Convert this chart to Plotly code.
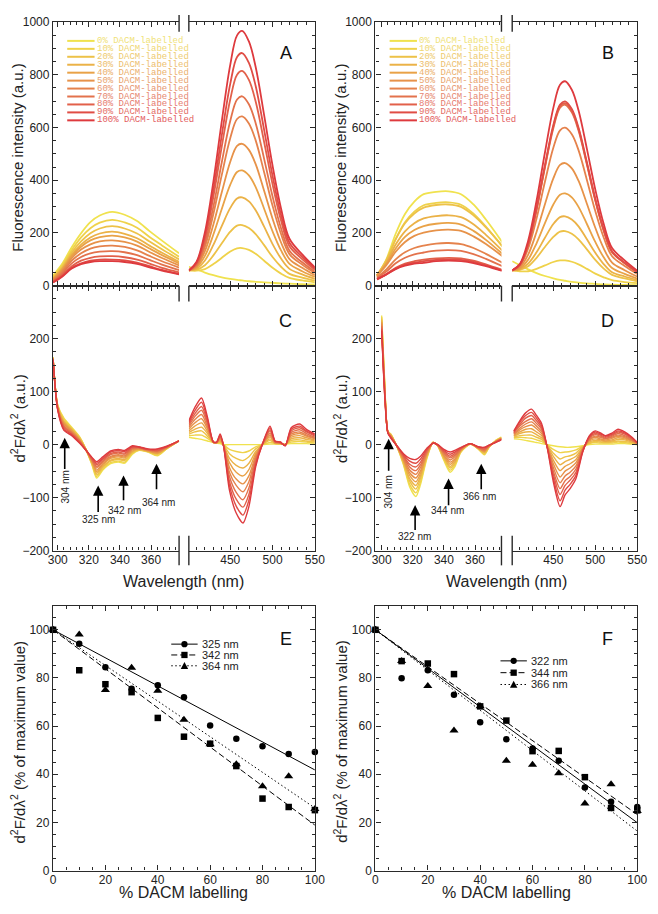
import plotly.graph_objects as go

# page offset of the plot inside the browser page (default body margin)
OFF = 8
W, H = 658, 914
FW, FH = W - OFF, H - OFF

# ---------------- data ----------------
labelling = [0, 10, 20, 30, 40, 50, 60, 70, 80, 90, 100]
legend_labels = ["0% DACM-labelled", "10% DACM-labelled", "20% DACM-labelled",
                 "30% DACM-labelled", "40% DACM-labelled", "50% DACM-labelled",
                 "60% DACM-labelled", "70% DACM-labelled", "80% DACM-labelled",
                 "90% DACM-labelled", "100% DACM-labelled"]
colors = ['#F0E24E', '#EFD24A', '#EDC248', '#EBB247', '#E9A247', '#E79249',
          '#E5824C', '#E3724C', '#E2604A', '#E04D45', '#DE3A3E']
legend_text_colors = ['#F0E278', '#EFD874', '#EECB70', '#EDBE6D', '#EBB06C', '#E9A36D',
                      '#E79670', '#E68870', '#E67A6E', '#E46B64', '#E35C5E']

# Fluorescence spectra (panel A / B)
wl_left = [297, 303, 309, 315, 321, 327, 335, 343, 351, 359, 367, 378]
wl_right = [401, 410, 420, 430, 440, 450, 458, 464, 472, 480, 490, 500, 510, 520, 535, 550]

A_left = [
    [39, 84, 146, 199, 241, 266, 280, 269, 245, 207, 171, 123],
    [35, 78, 135, 183, 218, 239, 250, 240, 220, 185, 153, 110],
    [31, 71, 126, 168, 199, 217, 226, 217, 198, 168, 138, 100],
    [28, 66, 118, 156, 183, 198, 205, 197, 180, 152, 125, 91],
    [26, 63, 112, 148, 172, 184, 190, 183, 167, 141, 116, 85],
    [23, 58, 105, 137, 157, 168, 172, 166, 152, 128, 105, 77],
    [20, 53, 95, 123, 141, 149, 152, 147, 134, 113, 93, 69],
    [17, 47, 85, 109, 123, 129, 131, 127, 116, 98, 80, 59],
    [15, 41, 74, 95, 106, 111, 112, 108, 99, 84, 68, 51],
    [13, 37, 68, 85, 95, 99, 99, 96, 88, 74, 60, 45],
    [12, 35, 65, 82, 90, 93, 93, 90, 83, 70, 57, 43],
]
A_right = [
    [72, 62, 50, 40, 32, 26, 22, 20, 17, 15, 13, 11, 9, 8, 6, 5],
    [58, 57, 63, 82, 106, 130, 142, 143, 136, 121, 95, 68, 46, 30, 20, 13],
    [58, 61, 78, 115, 161, 205, 228, 230, 219, 196, 154, 109, 72, 45, 31, 19],
    [58, 65, 96, 155, 227, 295, 331, 335, 320, 286, 224, 158, 103, 64, 43, 26],
    [58, 69, 113, 194, 292, 383, 431, 437, 418, 374, 292, 206, 134, 83, 55, 33],
    [58, 73, 131, 232, 355, 470, 530, 538, 515, 461, 360, 254, 164, 101, 68, 40],
    [58, 77, 148, 272, 421, 560, 632, 642, 615, 551, 430, 303, 196, 120, 80, 48],
    [58, 80, 161, 300, 469, 625, 706, 718, 688, 616, 481, 338, 218, 133, 89, 53],
    [58, 84, 177, 337, 529, 707, 800, 814, 780, 698, 545, 384, 247, 150, 101, 60],
    [58, 87, 189, 363, 572, 766, 867, 882, 845, 757, 591, 416, 268, 163, 109, 65],
    [58, 90, 203, 395, 625, 838, 949, 966, 926, 829, 647, 455, 293, 178, 119, 70],
]
B_left = [
    [36, 100, 197, 272, 319, 347, 356, 358, 347, 308, 251, 161],
    [37, 94, 177, 241, 281, 305, 314, 316, 307, 273, 224, 146],
    [41, 97, 176, 237, 274, 296, 306, 308, 299, 267, 221, 147],
    [40, 88, 156, 206, 237, 255, 264, 267, 260, 233, 193, 131],
    [39, 83, 141, 185, 211, 226, 235, 238, 232, 208, 174, 119],
    [38, 78, 129, 166, 189, 201, 210, 213, 208, 187, 158, 110],
    [32, 62, 100, 127, 143, 152, 160, 162, 158, 143, 121, 86],
    [29, 54, 85, 106, 119, 126, 133, 135, 132, 120, 102, 73],
    [24, 44, 68, 84, 93, 99, 104, 106, 104, 95, 81, 59],
    [24, 43, 65, 80, 88, 93, 98, 100, 98, 90, 77, 57],
    [25, 43, 63, 76, 84, 87, 93, 95, 93, 86, 74, 55],
]
B_right = [
    [93, 78, 62, 48, 37, 28, 22, 19, 15, 12, 9, 7, 5, 4, 3, 2],
    [58, 55, 55, 64, 77, 90, 96, 96, 91, 81, 64, 46, 32, 21, 14, 10],
    [58, 60, 74, 106, 147, 185, 205, 207, 197, 176, 138, 98, 65, 41, 28, 17],
    [58, 62, 84, 127, 182, 234, 260, 263, 251, 225, 176, 125, 82, 51, 35, 21],
    [58, 65, 99, 161, 237, 308, 345, 350, 335, 299, 234, 166, 108, 67, 45, 27],
    [58, 70, 118, 204, 309, 407, 458, 465, 445, 398, 311, 220, 142, 88, 59, 35],
    [58, 75, 141, 255, 394, 523, 589, 599, 574, 514, 401, 283, 183, 112, 75, 45],
    [58, 79, 156, 288, 448, 597, 675, 686, 657, 588, 459, 323, 209, 127, 85, 51],
    [58, 79, 157, 291, 452, 603, 681, 692, 663, 594, 463, 326, 211, 129, 86, 51],
    [58, 79, 158, 293, 457, 609, 687, 699, 670, 600, 468, 330, 213, 130, 87, 52],
    [58, 82, 171, 322, 505, 674, 762, 775, 743, 665, 519, 365, 235, 143, 96, 57],
]

# Second-derivative spectra (panel C / D)
wl_C_left = [297, 300, 304, 309, 314, 318, 322, 325, 329, 334, 339, 343, 348, 352, 358, 364, 370, 378]
C_left = [
    [165, 75, 50, 33, 15, -8, -38, -63, -48, -36, -33, -35, -18, -11, -14, -21, -8, 7],
    [165, 74, 48, 31, 14, -8, -37, -60, -46, -34, -31, -33, -16, -10, -13, -20, -8, 7],
    [164, 73, 45, 30, 13, -8, -35, -57, -43, -31, -28, -30, -15, -10, -13, -18, -7, 7],
    [164, 72, 43, 28, 11, -9, -34, -54, -41, -29, -26, -28, -13, -9, -12, -17, -7, 7],
    [163, 71, 41, 27, 10, -9, -32, -51, -38, -26, -23, -25, -12, -8, -12, -16, -6, 7],
    [163, 70, 39, 25, 9, -9, -31, -48, -36, -24, -21, -23, -10, -8, -11, -15, -6, 7],
    [162, 69, 36, 23, 8, -9, -30, -44, -33, -22, -19, -21, -8, -7, -10, -13, -5, 7],
    [162, 68, 34, 22, 7, -9, -28, -41, -31, -19, -16, -18, -7, -6, -10, -12, -5, 7],
    [161, 67, 32, 20, 5, -10, -27, -38, -28, -17, -14, -16, -5, -5, -9, -11, -4, 7],
    [161, 66, 29, 19, 4, -10, -25, -35, -26, -14, -11, -13, -4, -5, -9, -9, -4, 7],
    [160, 65, 27, 17, 3, -10, -24, -32, -23, -12, -9, -11, -2, -4, -8, -8, -3, 7],
]
wl_C_right = [401, 408, 416, 423, 430, 434, 438, 442, 449, 457, 465, 472, 480, 488, 497, 503, 509, 515, 522, 532, 540, 550]
C_right = [
    [14, 12, 10, 7, 4, 3, 2, 0, 0, 0, 0, 0, 0, 0, 1, 1, 1, 1, 2, 2, 2, 1],
    [17, 18, 18, 12, 4, 3, 4, 0, -9, -13, -15, -12, -4, 0, 4, 2, 1, 1, 5, 6, 5, 3],
    [20, 24, 26, 16, 4, 3, 6, 0, -17, -26, -30, -23, -8, 0, 8, 2, 2, 0, 8, 9, 7, 5],
    [23, 29, 33, 21, 4, 4, 7, -1, -26, -39, -44, -35, -13, 0, 11, 3, 2, 0, 11, 13, 10, 7],
    [26, 35, 41, 25, 4, 4, 9, -1, -34, -52, -59, -47, -17, 0, 15, 3, 3, 0, 14, 17, 13, 9],
    [30, 41, 49, 30, 5, 4, 11, -1, -43, -65, -74, -59, -21, 1, 18, 4, 3, 0, 17, 21, 16, 11],
    [33, 47, 57, 34, 5, 4, 13, -1, -52, -77, -89, -70, -25, 1, 21, 5, 3, -1, 20, 24, 18, 12],
    [36, 53, 65, 39, 5, 4, 15, -1, -60, -90, -104, -82, -29, 1, 25, 5, 4, -1, 23, 28, 21, 14],
    [39, 58, 72, 43, 5, 5, 16, -2, -69, -103, -118, -94, -34, 1, 28, 6, 4, -1, 26, 32, 24, 16],
    [42, 64, 80, 48, 5, 5, 18, -2, -77, -116, -133, -105, -38, 1, 32, 6, 5, -2, 29, 35, 26, 18],
    [45, 70, 88, 52, 5, 5, 20, -2, -86, -129, -148, -117, -42, 1, 35, 7, 5, -2, 32, 39, 29, 20],
]
wl_D_left = [300, 302, 304, 306, 310, 314, 318, 322, 325, 329, 333, 336, 340, 344, 347, 351, 357, 362, 366, 369, 373, 377]
D_left = [
    [244, 115, 25, 20, -5, -38, -80, -98, -75, -27, 4, -2, -30, -52, -42, -14, 1, -8, -19, -5, 7, 14],
    [241, 113, 25, 19, -5, -36, -75, -91, -70, -25, 4, -2, -28, -48, -39, -13, 1, -8, -18, -5, 7, 14],
    [238, 110, 24, 18, -5, -34, -69, -84, -64, -23, 4, -2, -26, -44, -36, -12, 1, -7, -16, -4, 6, 13],
    [235, 108, 24, 18, -4, -32, -64, -77, -59, -21, 4, -1, -24, -41, -33, -11, 1, -7, -15, -4, 6, 13],
    [232, 105, 24, 17, -4, -30, -58, -70, -54, -19, 4, -1, -22, -37, -30, -10, 1, -6, -13, -3, 6, 12],
    [230, 103, 24, 16, -4, -28, -53, -63, -49, -17, 4, -1, -20, -33, -27, -10, 2, -6, -12, -3, 6, 12],
    [227, 100, 23, 15, -4, -25, -48, -56, -43, -15, 3, -1, -17, -29, -23, -9, 2, -6, -11, -3, 5, 11],
    [224, 98, 23, 14, -4, -23, -42, -49, -38, -13, 3, -1, -15, -25, -20, -8, 2, -5, -9, -2, 5, 11],
    [221, 95, 23, 14, -3, -21, -37, -42, -33, -11, 3, 0, -13, -22, -17, -7, 2, -5, -8, -2, 5, 10],
    [218, 93, 22, 13, -3, -19, -31, -35, -27, -9, 3, 0, -11, -18, -14, -6, 2, -4, -6, -1, 4, 10],
    [215, 90, 22, 12, -3, -17, -26, -28, -22, -7, 3, 0, -9, -14, -11, -5, 2, -4, -5, -1, 4, 9],
]
wl_D_right = [403, 410, 417, 424, 430, 436, 443, 450, 458, 464, 470, 477, 485, 493, 500, 506, 512, 520, 527, 535, 543, 550]
D_right = [
    [11, 10, 8, 6, 4, 2, 0, -2, -4, -5, -5, -4, -2, 0, 1, 1, 1, 1, 2, 2, 1, 0],
    [13, 14, 13, 12, 9, 6, -1, -9, -15, -14, -13, -10, -3, 2, 4, 3, 3, 3, 5, 4, 2, 0],
    [14, 17, 18, 18, 14, 10, -2, -16, -27, -23, -21, -16, -4, 3, 6, 5, 4, 5, 7, 6, 4, 1],
    [16, 21, 24, 24, 19, 13, -2, -22, -38, -32, -28, -22, -6, 5, 8, 7, 6, 7, 10, 9, 5, 1],
    [17, 24, 29, 30, 24, 17, -3, -29, -49, -41, -36, -28, -7, 7, 11, 9, 7, 9, 13, 11, 7, 2],
    [19, 28, 34, 37, 30, 21, -4, -36, -61, -50, -44, -34, -8, 9, 14, 11, 9, 12, 16, 13, 8, 2],
    [20, 31, 39, 43, 35, 25, -5, -43, -72, -59, -52, -40, -9, 10, 16, 14, 11, 14, 18, 15, 9, 2],
    [22, 35, 44, 49, 40, 29, -6, -50, -83, -68, -60, -46, -10, 12, 19, 16, 12, 16, 21, 17, 11, 3],
    [23, 38, 50, 55, 45, 32, -6, -56, -94, -77, -67, -52, -12, 14, 21, 18, 14, 18, 24, 20, 12, 3],
    [25, 42, 55, 61, 50, 36, -7, -63, -106, -86, -75, -58, -13, 15, 24, 20, 16, 20, 26, 22, 14, 4],
    [26, 45, 60, 67, 55, 40, -8, -70, -117, -95, -83, -64, -14, 17, 26, 22, 17, 22, 29, 24, 15, 4],
]

# Panel E / F : % of maximum value vs % DACM labelling
E_325 = [100, 94.2, 84.5, 75.5, 77, 72, 60.3, 54.8, 51.6, 48.4, 49.3]
E_342 = [100, 83.2, 77.4, 74.1, 63.4, 55.6, 52.7, 43.4, 29.9, 26.4, 25.1]
E_364 = [100, 98, 75, 84.2, 74.7, 62.6, 52.5, 44.2, 35, 39.2, 25.6]
F_322 = [100, 79.9, 83.2, 73, 61.6, 54.5, 50.7, 45.6, 34.5, 28.6, 26.4]
F_344 = [100, 87, 86, 81.6, 68.2, 62.3, 49.6, 49.7, 38.8, 26, 25]
F_366 = [100, 87, 76.7, 58.2, 68.2, 45.6, 44, 40.4, 27.9, 35.9, 24.7]
fit_x = [0, 100]
E_fit_325 = [100, 41.8]
E_fit_342 = [100, 18.9]
E_fit_364 = [100, 26.0]
F_fit_322 = [100, 19.9]
F_fit_344 = [100, 23.3]
F_fit_366 = [100, 16.4]

# arrows: (wavelength, head value, tail value, label, label x, label y, rotated)
C_arrows = [(304.5, 13, -49, "304 nm", 305, -80, True),
            (326, -77, -130, "325 nm", 326, -141, False),
            (342.3, -58, -108, "342 nm", 343, -125, False),
            (363.5, -36, -87, "364 nm", 364.5, -109, False)]
D_arrows = [(304.5, 11, -52, "304 nm", 304.5, -89, True),
            (321.5, -114, -164, "322 nm", 321, -174, False),
            (343, -64, -117, "344 nm", 342.5, -125, False),
            (364, -36, -87, "366 nm", 363, -98, False)]

# ---------------- helpers ----------------
def fx(px):
    return (px - OFF) / FW


def fy(py):
    return 1 - (py - OFF) / FH


LINE = '#2a2a2a'
SANS = 'Liberation Sans, Arial, sans-serif'
TF = dict(family=SANS, size=12, color='#222222')

fig = go.Figure()
layout = dict(width=FW, height=FH, margin=dict(l=0, r=0, t=0, b=0), autosize=False,
              paper_bgcolor='white', plot_bgcolor='white', showlegend=False,
              font=dict(family=SANS, color='#222222'))


def xaxis(dom, rng, anchor, tickvals, mtick0, mdtick, labels):
    return dict(domain=[fx(dom[0]), fx(dom[1])], range=rng, anchor=anchor,
                showline=True, linecolor=LINE, linewidth=1.4, mirror='ticks',
                ticks='inside', ticklen=5, tickwidth=1.2, tickcolor=LINE,
                tickmode='array', tickvals=tickvals, showticklabels=labels,
                ticklabelstandoff=-2,
                tickfont=TF, showgrid=False, zeroline=False,
                minor=dict(ticks='inside', ticklen=3, tickwidth=1, tickcolor=LINE,
                           tickmode='linear', tick0=mtick0, dtick=mdtick, showgrid=False))


def yaxis(dom, rng, anchor, tickvals, mtick0, mdtick, side, labels, mirror):
    return dict(domain=[fy(dom[1]), fy(dom[0])], range=rng, anchor=anchor, side=side,
                showline=True, linecolor=LINE, linewidth=1.4, mirror=mirror,
                ticks='inside', ticklen=5, tickwidth=1.2, tickcolor=LINE,
                tickmode='array', tickvals=tickvals, showticklabels=labels,
                tickfont=TF, showgrid=False, zeroline=False,
                minor=dict(ticks='inside', ticklen=3, tickwidth=1, tickcolor=LINE,
                           tickmode='linear', tick0=mtick0, dtick=mdtick, showgrid=False))


A_Y = (15, 283)
C_Y = (283, 552)
E_Y = (608, 877)
cols = [dict(left=(49, 178), right=(188, 317), full=(49, 317), brk=(178, 188), off=0),
        dict(left=(379, 508), right=(519, 647), full=(379, 647), brk=(508, 519), off=330)]

fl_ticks = [0, 200, 400, 600, 800, 1000]
d2_ticks = [-200, -100, 0, 100, 200]
pct_ticks = [0, 20, 40, 60, 80, 100]

for ci, col in enumerate(cols):
    b = ci * 4
    lrng = [297, 378] if ci == 0 else [296, 377]
    layout[f'xaxis{b+1}'] = xaxis(col['left'], lrng, f'y{b+1}', [300, 320, 340, 360], 300, 4, False)
    layout[f'yaxis{b+1}'] = yaxis(A_Y, [0, 1000], f'x{b+1}', fl_ticks, 0, 50, 'left', True, False)
    layout[f'xaxis{b+2}'] = xaxis(col['right'], [401, 550], f'y{b+2}', [450, 500, 550], 450, 10, False)
    layout[f'yaxis{b+2}'] = yaxis(A_Y, [0, 1000], f'x{b+2}', fl_ticks, 0, 50, 'right', False, False)
    layout[f'xaxis{b+3}'] = xaxis(col['left'], lrng, f'y{b+3}', [300, 320, 340, 360], 300, 4, True)
    layout[f'yaxis{b+3}'] = yaxis(C_Y, [-200, 300], f'x{b+3}', d2_ticks, 0, 25, 'left', True, False)
    layout[f'xaxis{b+4}'] = xaxis(col['right'], [401, 550], f'y{b+4}', [450, 500, 550], 450, 10, True)
    layout[f'yaxis{b+4}'] = yaxis(C_Y, [-200, 300], f'x{b+4}', d2_ticks, 0, 25, 'right', False, False)
    layout[f'xaxis{9+ci}'] = xaxis(col['full'], [0, 100], f'y{9+ci}', pct_ticks, 0, 5, True)
    layout[f'yaxis{9+ci}'] = yaxis(E_Y, [0, 110], f'x{9+ci}', pct_ticks, 0, 5, 'left', True, 'ticks')


def axname(n):
    return ('x' if n == 1 else f'x{n}'), ('y' if n == 1 else f'y{n}')


def add_spectra(n, wl, data, width, smooth):
    xa, ya = axname(n)
    for k in range(len(data)):
        fig.add_trace(go.Scatter(x=wl, y=data[k], mode='lines', xaxis=xa, yaxis=ya,
                                 line=dict(color=colors[k], width=width, shape='spline',
                                           smoothing=smooth),
                                 name=legend_labels[k], hoverinfo='skip'))


add_spectra(1, wl_left, A_left, 1.8, 1.0)
add_spectra(2, wl_right, A_right, 1.8, 1.0)
add_spectra(3, wl_C_left, C_left, 1.4, 0.7)
add_spectra(4, wl_C_right, C_right, 1.4, 0.7)
add_spectra(5, wl_left, B_left, 1.8, 1.0)
add_spectra(6, wl_right, B_right, 1.8, 1.0)
add_spectra(7, wl_D_left, D_left, 1.4, 0.7)
add_spectra(8, wl_D_right, D_right, 1.4, 0.7)

DASHES = ['solid', '6px,3px', '1.5px,2.5px']


def add_pct(n, circ, sq, tri, fits, names):
    xa, ya = axname(n)
    for f, d in zip(fits, DASHES):
        fig.add_trace(go.Scatter(x=fit_x, y=f, mode='lines', xaxis=xa, yaxis=ya,
                                 line=dict(color='black', width=1, dash=d), hoverinfo='skip'))
    for s, sym, sz, nm in [(tri, 'triangle-up', 8, names[2]), (circ, 'circle', 6.5, names[0]),
                           (sq, 'square', 6.5, names[1])]:
        fig.add_trace(go.Scatter(x=labelling, y=s, mode='markers', xaxis=xa, yaxis=ya, name=nm,
                                 marker=dict(symbol=sym, size=sz, color='black'),
                                 cliponaxis=False))


add_pct(9, E_325, E_342, E_364, [E_fit_325, E_fit_342, E_fit_364], ['325 nm', '342 nm', '364 nm'])
add_pct(10, F_322, F_344, F_366, [F_fit_322, F_fit_344, F_fit_366], ['322 nm', '344 nm', '366 nm'])

shapes = []
annotations = []

# axis-break marks
for col in cols:
    for xb in col['brk']:
        for (y0, y1) in [(OFF, 25), (283, 299), (537, 567)]:
            shapes.append(dict(type='line', xref='paper', yref='paper', x0=fx(xb), x1=fx(xb),
                               y0=fy(y0), y1=fy(y1), line=dict(color=LINE, width=1.4)))

# spectra legends
for col in cols:
    x0 = 63.5 + col['off']
    for k in range(11):
        yy = 34.3 + k * 8.07
        shapes.append(dict(type='line', xref='paper', yref='paper', x0=fx(x0), x1=fx(x0 + 28),
                           y0=fy(yy), y1=fy(yy), line=dict(color=colors[k], width=2)))
        annotations.append(dict(text=legend_labels[k], x=fx(x0 + 28.5), y=fy(yy), xref='paper',
                                yref='paper', xanchor='left', yanchor='middle', showarrow=False,
                                font=dict(family='Liberation Mono, Courier New, monospace',
                                          size=9, color=legend_text_colors[k])))


def pct_legend(x0, rows, names):
    kinds = ['circle', 'square', 'triangle']
    for yy, nm, d, kd in zip(rows, names, DASHES, kinds):
        shapes.append(dict(type='line', xref='paper', yref='paper', x0=fx(x0), x1=fx(x0 + 27),
                           y0=fy(yy), y1=fy(yy), line=dict(color='black', width=1, dash=d)))
        cx = x0 + 13.5
        r = 3.2
        if kd == 'circle':
            shapes.append(dict(type='circle', xref='paper', yref='paper', x0=fx(cx - r), x1=fx(cx + r),
                               y0=fy(yy + r), y1=fy(yy - r), fillcolor='black', line=dict(width=0)))
        elif kd == 'square':
            shapes.append(dict(type='rect', xref='paper', yref='paper', x0=fx(cx - r), x1=fx(cx + r),
                               y0=fy(yy + r), y1=fy(yy - r), fillcolor='black', line=dict(width=0)))
        else:
            p = f"M {fx(cx - 3.8)},{fy(yy + 3.2)} L {fx(cx + 3.8)},{fy(yy + 3.2)} L {fx(cx)},{fy(yy - 3.8)} Z"
            shapes.append(dict(type='path', xref='paper', yref='paper', path=p,
                               fillcolor='black', line=dict(width=0)))
        annotations.append(dict(text=nm, x=fx(x0 + 29), y=fy(yy), xref='paper', yref='paper',
                                xanchor='left', yanchor='middle', showarrow=False,
                                font=dict(family=SANS, size=11, color='#222222')))


pct_legend(170, [647, 658, 669], ['325 nm', '342 nm', '364 nm'])
pct_legend(507, [664, 676, 688], ['322 nm', '344 nm', '366 nm'])


def add_arrows(n, arrows):
    xa, ya = axname(n)
    for (wx, yh, yt, lab, lx, ly, rot) in arrows:
        annotations.append(dict(text='', x=wx, y=yh, ax=wx, ay=yt, xref=xa, yref=ya,
                                axref=xa, ayref=ya, showarrow=True, arrowhead=2,
                                arrowsize=1.3, arrowwidth=1.6, arrowcolor='black'))
        annotations.append(dict(text=lab, x=lx, y=ly, xref=xa, yref=ya, showarrow=False,
                                textangle=-90 if rot else 0, xanchor='center', yanchor='middle',
                                font=dict(family=SANS, size=10, color='#222222')))


add_arrows(3, C_arrows)
add_arrows(7, D_arrows)

for col, letters in zip(cols, [('A', 'C', 'E'), ('B', 'D', 'F')]):
    for let, yy in zip(letters, [47, 319, 642]):
        annotations.append(dict(text=let, x=fx(287 + col['off']), y=fy(yy), xref='paper', yref='paper',
                                showarrow=False, xanchor='center', yanchor='middle',
                                font=dict(family=SANS, size=18, color='#111111')))

TT = dict(family=SANS, size=15, color='#222222')
TX = dict(family=SANS, size=16, color='#222222')
for col in cols:
    o = col['off']
    annotations.append(dict(text='Fluorescence intensity (a.u.)', x=fx(13 + o), y=fy(153),
                            xref='paper', yref='paper', textangle=-90, showarrow=False,
                            xanchor='center', yanchor='middle', font=TT))
    annotations.append(dict(text='d<sup>2</sup>F/dλ<sup>2</sup> (a.u.)', x=fx(13 + o), y=fy(418),
                            xref='paper', yref='paper', textangle=-90, showarrow=False,
                            xanchor='center', yanchor='middle', font=TT))
    annotations.append(dict(text='Wavelength (nm)', x=fx(183 + o), y=fy(583),
                            xref='paper', yref='paper', showarrow=False,
                            xanchor='center', yanchor='middle', font=TX))
    annotations.append(dict(text='d<sup>2</sup>F/dλ<sup>2</sup> (% of maximum value)', x=fx(13 + o), y=fy(746),
                            xref='paper', yref='paper', textangle=-90, showarrow=False,
                            xanchor='center', yanchor='middle', font=TT))
    annotations.append(dict(text='% DACM labelling', x=fx(183 + o), y=fy(899),
                            xref='paper', yref='paper', showarrow=False,
                            xanchor='center', yanchor='middle', font=TX))

layout['shapes'] = shapes
layout['annotations'] = annotations
fig.update_layout(**layout)
fig.write_html("out.html")
